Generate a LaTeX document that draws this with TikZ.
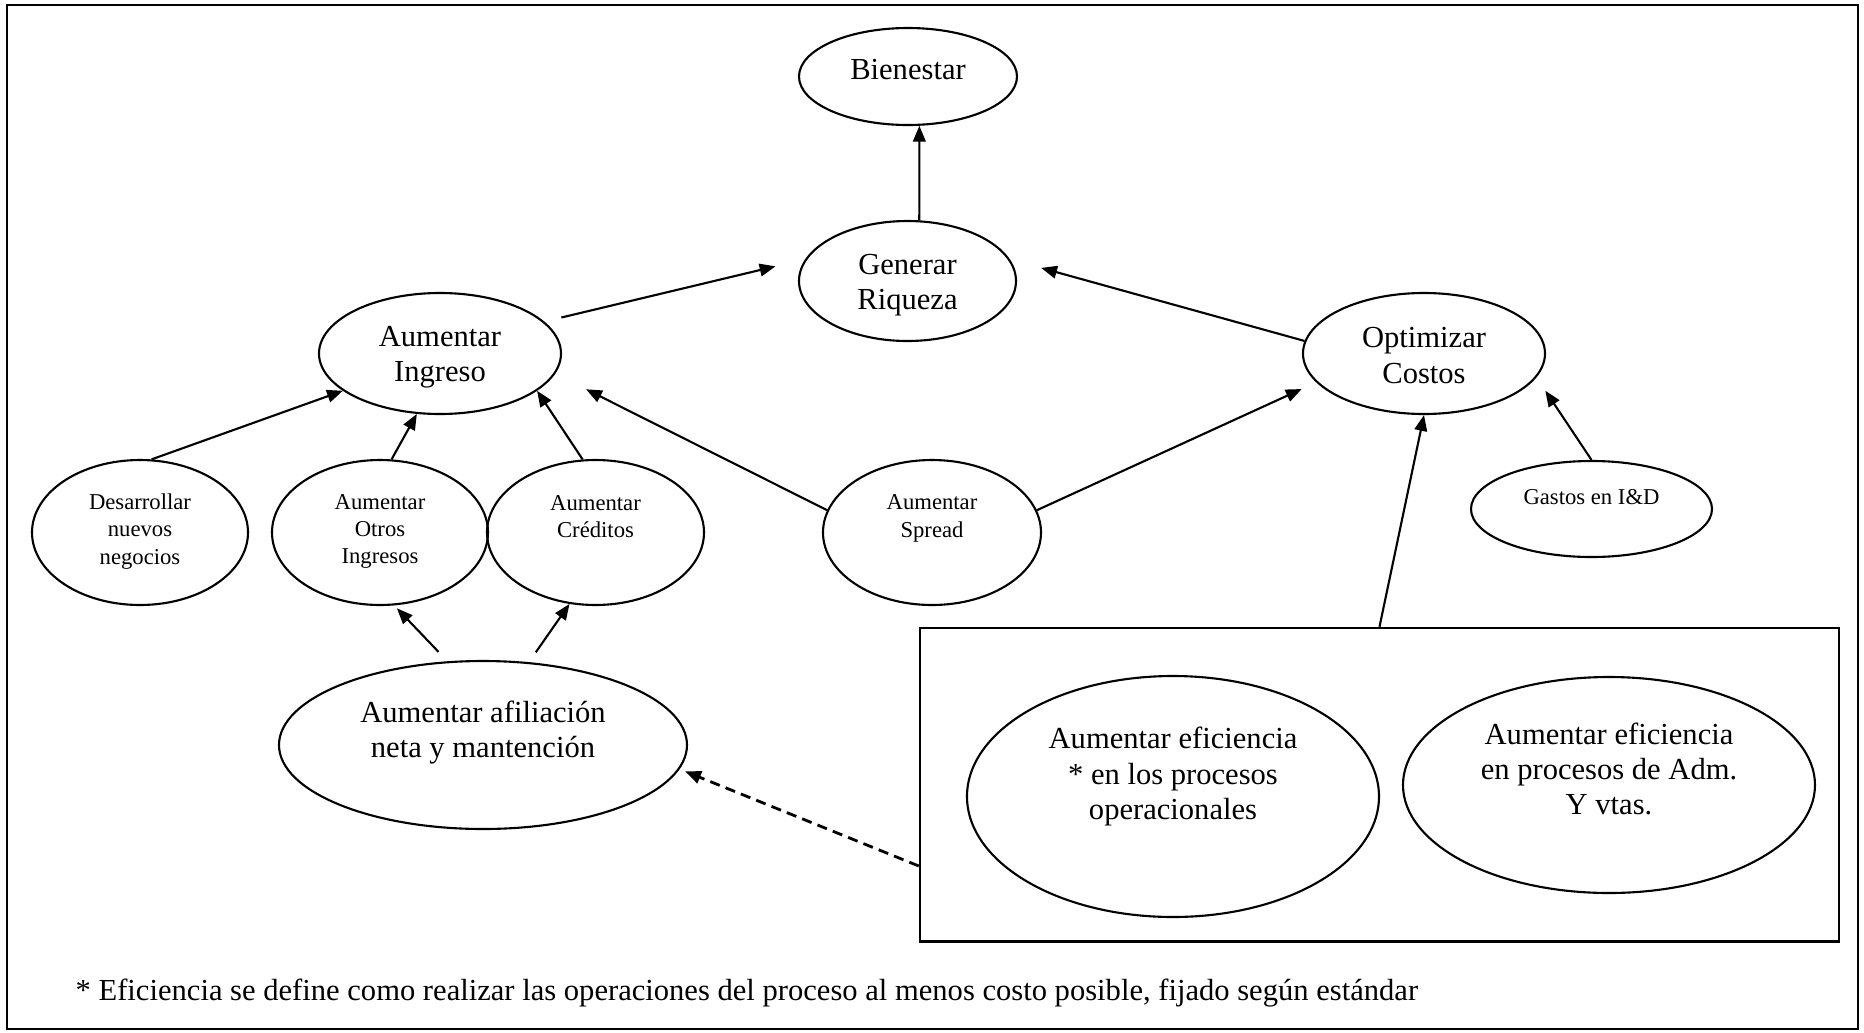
\documentclass[tikz,border=0pt]{standalone}
\usepackage{fontspec}
\setmainfont{Liberation Serif}
\usetikzlibrary{shapes.geometric,arrows.meta}

\begin{document}
\begin{tikzpicture}[
  oval/.style={draw, ellipse, line width=0.6pt, inner sep=0pt},
  big/.style={font=\fontsize{8.7pt}{10pt}\selectfont, align=center},
  small/.style={font=\fontsize{6.45pt}{7.8pt}\selectfont, align=center},
  arr/.style={line width=0.6pt, -{Triangle[length=4.5pt,width=3.6pt]}},
  frame/.style={line width=0.7pt}
]
\path[fill=white, use as bounding box] (0,0) rectangle (18.64,-10.33);
\draw[frame] (0.07,-0.05) rectangle (18.58,-10.29);

\node[oval, minimum width=2.18cm, minimum height=0.97cm, label={[big,yshift=0.065cm]center:{Bienestar}}] (bien) at (9.08,-0.765) {};
\node[oval, minimum width=2.17cm, minimum height=1.20cm, label={[big,yshift=-0.04cm]center:{Generar\\Riqueza}}] (gen) at (9.075,-2.81) {};
\node[oval, minimum width=2.42cm, minimum height=1.21cm, label={[big,yshift=-0.04cm]center:{Aumentar\\Ingreso}}] (ing) at (4.40,-3.535) {};
\node[oval, minimum width=2.42cm, minimum height=1.21cm, label={[big,yshift=-0.02cm]center:{Optimizar\\Costos}}] (opt) at (14.24,-3.535) {};

\node[oval, minimum width=2.16cm, minimum height=1.45cm, label={[small,yshift=0.01cm]center:{Desarrollar\\nuevos\\negocios}}] (des) at (1.40,-5.325) {};
\node[oval, minimum width=2.16cm, minimum height=1.45cm, label={[small,yshift=0.01cm]center:{Aumentar\\Otros\\Ingresos}}] (otr) at (3.80,-5.325) {};
\node[oval, minimum width=2.17cm, minimum height=1.45cm, label={[small,yshift=0.16cm]center:{Aumentar\\Créditos}}] (cre) at (5.955,-5.325) {};
\node[oval, minimum width=2.18cm, minimum height=1.45cm, label={[small,yshift=0.14cm]center:{Aumentar\\Spread}}] (spr) at (9.32,-5.325) {};
\node[oval, minimum width=2.41cm, minimum height=0.96cm, label={[small,yshift=0.12cm]center:{Gastos en I\&D}}] (gas) at (15.915,-5.09) {};

\node[oval, minimum width=4.08cm, minimum height=1.68cm, label={[big,yshift=0.125cm]center:{Aumentar afiliación\\neta y mantención}}] (afi) at (4.83,-7.45) {};

\node[draw, frame, minimum width=9.19cm, minimum height=3.135cm] (grp) at (13.795,-7.8475) {};
\node[oval, minimum width=4.12cm, minimum height=2.41cm, label={[big,yshift=0.20cm]center:{Aumentar eficiencia\\* en los procesos\\operacionales}}] (efo) at (11.73,-7.965) {};
\node[oval, minimum width=4.12cm, minimum height=2.16cm, label={[big,yshift=0.16cm]center:{Aumentar eficiencia\\en procesos de Adm.\\Y vtas.}}] (efa) at (16.09,-7.85) {};

\node[big, inner sep=0pt, anchor=base west] (nota) at (0.75,-10.0) {* Eficiencia se define como realizar las operaciones del proceso al menos costo posible, fijado según estándar};

\draw[arr] (gen.79) -- (bien.283);
\draw[arr, shorten <=0.175cm, shorten >=0.305cm] (ing.17.7) -- (gen.168.4);
\draw[arr, shorten >=0.325cm] (opt.174) -- (gen.12);
\draw[arr] (des.81) -- (ing.201);
\draw[arr] (otr.81) -- (ing.249);
\draw[arr] (cre.100) -- (ing.339);
\draw[arr, shorten >=0.345cm] (spr.168) -- (ing.350);
\draw[arr, shorten >=0.16cm] (spr.12) -- (opt.195);
\draw[arr] (grp.north) -- (opt.south);
\draw[arr, shorten >=0.16cm] (gas.north) -- (opt.348);
\draw[arr, shorten <=0.13cm, shorten >=0.04cm] (afi.113) -- (otr.281);
\draw[arr, shorten <=0.12cm] (afi.61) -- (cre.250);
\draw[arr, line width=0.8pt, dash pattern=on 2.9pt off 1.8pt, shorten >=0.06cm] (grp.190) -- (afi.353);
\end{tikzpicture}
\end{document}
